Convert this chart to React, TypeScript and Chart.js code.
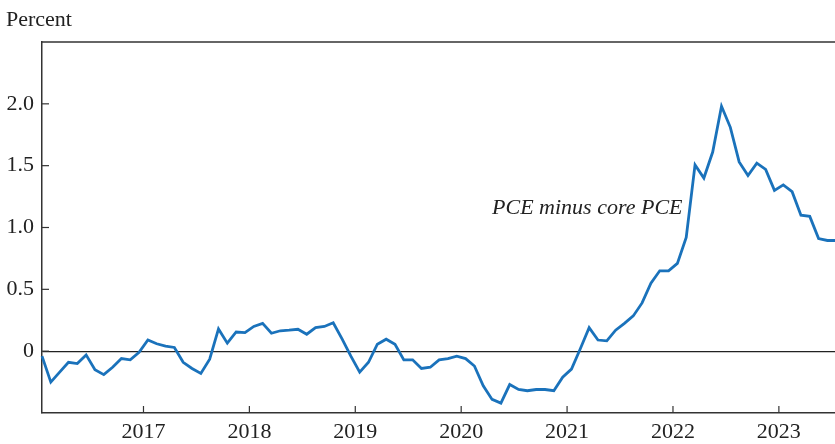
import React, { useEffect, useRef } from "react";
import { Chart, registerables } from "chart.js";

Chart.register(...registerables);

// Monthly series, January 2016 through July 2023
const startYear = 2016;
const pceMinusCore: number[] = [
  // 2016
  -0.04, -0.25, -0.17, -0.09, -0.10, -0.03, -0.15, -0.19, -0.13, -0.06, -0.07, -0.01,
  // 2017
  0.09, 0.06, 0.04, 0.03, -0.09, -0.14, -0.18, -0.065, 0.18, 0.065, 0.155, 0.15,
  // 2018
  0.20, 0.225, 0.145, 0.165, 0.17, 0.177, 0.137, 0.19, 0.20, 0.23, 0.10, -0.04,
  // 2019
  -0.17, -0.09, 0.056, 0.097, 0.056, -0.07, -0.07, -0.14, -0.13, -0.07, -0.06, -0.04,
  // 2020
  -0.06, -0.12, -0.28, -0.39, -0.42, -0.27, -0.31, -0.32, -0.31, -0.31, -0.32, -0.21,
  // 2021
  -0.145, 0.02, 0.19, 0.09, 0.083, 0.17, 0.225, 0.285, 0.39, 0.55, 0.65, 0.65,
  // 2022
  0.71, 0.92, 1.506, 1.40, 1.61, 1.98, 1.81, 1.53, 1.42, 1.52, 1.47, 1.30,
  // 2023
  1.345, 1.29, 1.10, 1.09, 0.91, 0.895, 0.895,
];

const xTickYears = [2017, 2018, 2019, 2020, 2021, 2022, 2023];
const yTickValues = [0, 0.5, 1.0, 1.5, 2.0];
const yAxisTitle = "Percent";
const annotationText = "PCE minus core PCE";
const annotationX = 2022.09;
const annotationY = 1.11;

const SERIF = "'Liberation Serif', 'Times New Roman', serif";
const FONT_SIZE = 22;

const decorPlugin = {
  id: "decor",
  afterDraw(chart: any) {
    const { ctx, chartArea: a, scales } = chart;
    const xs = scales.x;
    const ys = scales.y;
    ctx.save();
    ctx.strokeStyle = "#333";
    ctx.lineWidth = 1.5;
    // top frame line
    ctx.beginPath();
    ctx.moveTo(a.left, a.top);
    ctx.lineTo(a.right, a.top);
    ctx.stroke();
    // inward ticks
    ctx.lineWidth = 1.2;
    ys.ticks.forEach((t: any) => {
      const py = ys.getPixelForValue(t.value);
      ctx.beginPath();
      ctx.moveTo(a.left, py);
      ctx.lineTo(a.left + 7, py);
      ctx.stroke();
    });
    xs.ticks.forEach((t: any) => {
      const px = xs.getPixelForValue(t.value);
      ctx.beginPath();
      ctx.moveTo(px, a.bottom);
      ctx.lineTo(px, a.bottom - 7);
      ctx.stroke();
    });
    // annotation
    ctx.fillStyle = "#222";
    ctx.font = `italic ${FONT_SIZE}px ${SERIF}`;
    ctx.textAlign = "right";
    ctx.textBaseline = "alphabetic";
    ctx.fillText(annotationText, xs.getPixelForValue(annotationX), ys.getPixelForValue(annotationY));
    // axis title
    ctx.font = `${FONT_SIZE}px ${SERIF}`;
    ctx.textAlign = "left";
    ctx.fillText(yAxisTitle, 6, 26);
    ctx.restore();
  },
};

export default function App() {
  const ref = useRef<HTMLCanvasElement | null>(null);

  useEffect(() => {
    if (!ref.current) return;
    const points = pceMinusCore.map((v, i) => ({ x: startYear + (i + 0.5) / 12, y: v }));
    const chart = new Chart(ref.current, {
      type: "line",
      data: {
        datasets: [
          {
            data: points,
            borderColor: "#1a72bb",
            borderWidth: 2.8,
            pointRadius: 0,
            tension: 0,
            fill: false,
            clip: false as any,
          },
        ],
      },
      options: {
        animation: false,
        responsive: false,
        layout: { padding: { top: 42, right: 0, left: 0, bottom: 0 } },
        plugins: { legend: { display: false }, tooltip: { enabled: false } },
        scales: {
          x: {
            type: "linear",
            min: startYear + 0.5 / 12,
            max: 2023.53,
            afterBuildTicks: (s: any) => {
              s.ticks = xTickYears.map((v) => ({ value: v }));
            },
            afterFit: (s: any) => {
              s.height = 31;
            },
            ticks: {
              color: "#222",
              font: { family: SERIF, size: FONT_SIZE },
              padding: 6,
              maxRotation: 0,
              autoSkip: false,
              callback: (v: any) => String(v),
            },
            grid: { display: false, drawTicks: false },
            border: { display: true, color: "#333", width: 1.5 },
          },
          y: {
            type: "linear",
            min: -0.5,
            max: 2.5,
            afterBuildTicks: (s: any) => {
              s.ticks = yTickValues.map((v) => ({ value: v }));
            },
            afterFit: (s: any) => {
              s.width = 42;
            },
            ticks: {
              color: "#222",
              font: { family: SERIF, size: FONT_SIZE },
              padding: 8,
              callback: (v: any) => (v === 0 ? "0" : Number(v).toFixed(1)),
            },
            grid: {
              drawTicks: false,
              color: (c: any) => (c.tick && c.tick.value === 0 ? "#222" : "rgba(0,0,0,0)"),
              lineWidth: 1.3,
            },
            border: { display: true, color: "#333", width: 1.5 },
          },
        },
      },
      plugins: [decorPlugin],
    });
    return () => chart.destroy();
  }, []);

  return (
    <div style={{ position: "fixed", left: 0, top: 0, width: 835, height: 444, background: "#fff" }}>
      <canvas ref={ref} width={835} height={444} style={{ display: "block" }} />
    </div>
  );
}
